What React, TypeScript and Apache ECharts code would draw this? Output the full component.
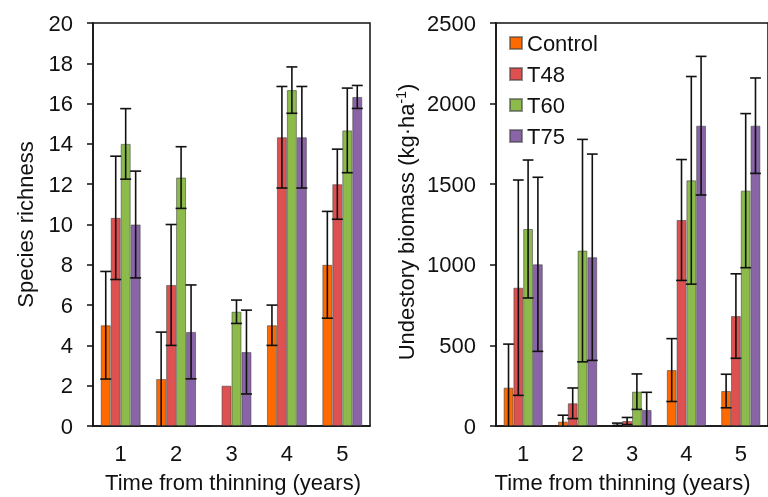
import React, { useEffect, useRef } from "react";
import * as echarts from "echarts";

const years = ["1", "2", "3", "4", "5"];
const seriesNames = ["Control", "T48", "T60", "T75"];
const colors = ["#FF6A00", "#DD5151", "#8CBB4C", "#8964A6"];

// Species richness (left panel)
const richControl = [5, 2.33, 0, 5, 8];
const richT48 = [10.33, 7, 2, 14.33, 12];
const richT60 = [14, 12.33, 5.67, 16.67, 14.67];
const richT75 = [10, 4.67, 3.67, 14.33, 16.33];
const richErrControl = [2.67, 2.33, 0, 1, 2.65];
const richErrT48 = [3.06, 3, 0, 2.52, 1.74];
const richErrT60 = [1.75, 1.53, 0.58, 1.15, 2.1];
const richErrT75 = [2.65, 2.33, 2.08, 2.52, 0.57];

// Understory biomass (right panel)
const bioControl = [238, 27, 10, 347, 217];
const bioT48 = [858, 141, 31, 1278, 682];
const bioT60 = [1222, 1088, 213, 1524, 1460];
const bioT75 = [1003, 1047, 99, 1863, 1863];
const bioErrControl = [270, 40, 8, 195, 104];
const bioErrT48 = [668, 95, 22, 375, 262];
const bioErrT60 = [428, 690, 110, 644, 478];
const bioErrT75 = [540, 640, 110, 430, 296];

const richTicks = { min: 0, max: 20, interval: 2 };
const bioTicks = { min: 0, max: 2500, interval: 500 };

const FONT = "Liberation Sans, Arial, sans-serif";
const BAR_FRAC = 0.18;

export default function App() {
  const ref = useRef<HTMLDivElement>(null);

  useEffect(() => {
    if (!ref.current) return;
    const chart = echarts.init(ref.current, undefined, { renderer: "svg" });

    const richVals = [richControl, richT48, richT60, richT75];
    const richErrs = [richErrControl, richErrT48, richErrT60, richErrT75];
    const bioVals = [bioControl, bioT48, bioT60, bioT75];
    const bioErrs = [bioErrControl, bioErrT48, bioErrT60, bioErrT75];

    const barSeries = (vals: number[][], gi: number) =>
      vals.map((v, i) => ({
        name: seriesNames[i],
        type: "bar",
        xAxisIndex: gi,
        yAxisIndex: gi,
        data: v,
        barWidth: "18%",
        barGap: "0%",
        itemStyle: {
          color: colors[i],
          borderColor: "rgba(60,60,60,0.55)",
          borderWidth: 1,
        },
        z: 2,
      }));

    const errSeries = (vals: number[][], errs: number[][], gi: number) =>
      vals.map((v, si) => ({
        type: "custom",
        xAxisIndex: gi,
        yAxisIndex: gi,
        z: 5,
        silent: true,
        data: v.map((val, ci) => [ci, val, errs[si][ci]]),
        renderItem: (params: any, api: any) => {
          const ci = api.value(0);
          const val = api.value(1);
          const e = api.value(2);
          if (!e) return null;
          const catW = api.size([1, 0])[0];
          const bw = catW * BAR_FRAC;
          const cx = api.coord([ci, val])[0] + (si - 1.5) * bw;
          const lowV = Math.max(0, val - e);
          const yTop = api.coord([ci, val + e])[1];
          const yBot = api.coord([ci, lowV])[1];
          const half = bw * 0.55;
          const st = { stroke: "#111", lineWidth: 1.6 };
          const children: any[] = [
            { type: "line", shape: { x1: cx, y1: yTop, x2: cx, y2: yBot }, style: st },
            { type: "line", shape: { x1: cx - half, y1: yTop, x2: cx + half, y2: yTop }, style: st },
          ];
          if (lowV > 0) {
            children.push({
              type: "line",
              shape: { x1: cx - half, y1: yBot, x2: cx + half, y2: yBot },
              style: st,
            });
          }
          return { type: "group", children };
        },
      }));

    const axisLine = { lineStyle: { color: "#111", width: 1.5 } };
    const axisTick = { length: 6, lineStyle: { color: "#111", width: 1.5 } };
    const labelStyle = { color: "#111", fontSize: 22, fontFamily: FONT };

    const option: any = {
      animation: false,
      textStyle: { fontFamily: FONT },
      grid: [
        {
          left: 93,
          top: 23,
          right: 398,
          bottom: 71,
          show: true,
          borderColor: "#111",
          borderWidth: 1.5,
        },
        {
          left: 496,
          top: 23,
          right: -6,
          bottom: 71,
          show: true,
          borderColor: "#111",
          borderWidth: 1.5,
        },
      ],
      legend: {
        data: seriesNames,
        orient: "vertical",
        left: 504,
        top: 27,
        itemWidth: 12,
        itemHeight: 12,
        itemGap: 9,
        icon: "rect",
        textStyle: { ...labelStyle, lineHeight: 22 },
      },
      xAxis: [0, 1].map((gi) => ({
        type: "category",
        gridIndex: gi,
        data: years,
        axisLine,
        axisTick: { ...axisTick, alignWithLabel: false },
        axisLabel: { ...labelStyle, margin: 16 },
        splitLine: { show: false },
      })),
      yAxis: [richTicks, bioTicks].map((t, gi) => ({
        type: "value",
        gridIndex: gi,
        min: t.min,
        max: t.max,
        interval: t.interval,
        axisLine: { show: true, ...axisLine },
        axisTick: { show: true, ...axisTick },
        axisLabel: { ...labelStyle, margin: 20, formatter: (v: number) => String(v) },
        splitLine: { show: false },
      })),
      series: [
        ...barSeries(richVals, 0),
        ...barSeries(bioVals, 1),
        ...errSeries(richVals, richErrs, 0),
        ...errSeries(bioVals, bioErrs, 1),
      ],
      graphic: [
        {
          type: "text",
          x: 25,
          y: 224.5,
          rotation: Math.PI / 2,
          style: {
            text: "Species richness",
            fill: "#111",
            font: `22px ${FONT}`,
            textAlign: "center",
            textVerticalAlign: "middle",
          },
        },
        {
          type: "text",
          x: 406,
          y: 222,
          rotation: Math.PI / 2,
          style: {
            text: "{a|Undestory biomass (kg·ha}{s|-1}{a|)}",
            fill: "#111",
            textAlign: "center",
            textVerticalAlign: "middle",
            rich: {
              a: { fontSize: 22, fontFamily: FONT, lineHeight: 24, fill: "#111" },
              s: {
                fontSize: 14,
                fontFamily: FONT,
                lineHeight: 14,
                verticalAlign: "top",
                fill: "#111",
              },
            },
          },
        },
        {
          type: "text",
          x: 233,
          y: 482,
          style: {
            text: "Time from thinning (years)",
            fill: "#111",
            font: `22px ${FONT}`,
            textAlign: "center",
            textVerticalAlign: "middle",
          },
        },
        {
          type: "text",
          x: 622.5,
          y: 482,
          style: {
            text: "Time from thinning (years)",
            fill: "#111",
            font: `22px ${FONT}`,
            textAlign: "center",
            textVerticalAlign: "middle",
          },
        },
      ],
    };

    chart.setOption(option);
    return () => chart.dispose();
  }, []);

  return (
    <div
      ref={ref}
      style={{ position: "fixed", left: 0, top: 0, width: 768, height: 497 }}
    />
  );
}
